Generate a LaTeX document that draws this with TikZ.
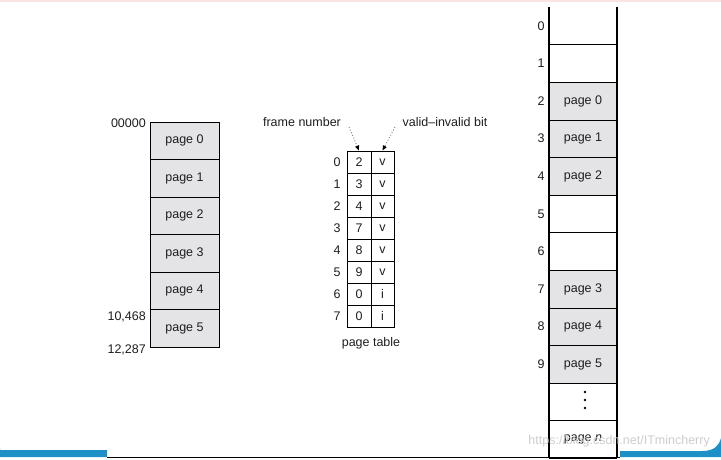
\documentclass[tikz,border=0pt]{standalone}
\usepackage{fontspec}
\setmainfont{Liberation Sans}
\usetikzlibrary{arrows.meta}
\definecolor{pagegray}{RGB}{228,227,230}
\definecolor{barblue}{RGB}{30,144,200}
\definecolor{wmgray}{RGB}{205,205,205}
\definecolor{toppink}{RGB}{250,228,225}
\definecolor{inkc}{RGB}{30,30,30}
\begin{document}
\begin{tikzpicture}[x=1pt,y=-1pt,
  every node/.style={font=\fontsize{12.5}{14}\selectfont, inner sep=0pt, text=inkc},
  lpage/.style={draw=black, line width=0.9pt, fill=pagegray, minimum width=69pt, minimum height=37.5pt},
  cell/.style={draw=black, line width=0.9pt, minimum height=22pt},
  frame/.style={minimum width=68pt, minimum height=37.6pt},
  pframe/.style={frame, fill=pagegray},
  idx/.style={anchor=center},
  ptr/.style={gray, dotted, line width=0.9pt, -{Triangle[black,length=5pt,width=4pt]}}
]
\useasboundingbox (0,0) rectangle (721,459);
% screenshot decorations
\fill[toppink] (0,0) rectangle (721,2);
\fill[barblue] (0,448) -- (0,450) -- (107,450) -- (107,457) -- (0,457) -- cycle;
\fill[barblue] (620,451) -- (702,451) .. controls (714,451) and (719,446) .. (721,438) -- (721,457) -- (620,457) -- cycle;
\draw[line width=1.2pt] (107,457.5) -- (620,457.5);

% logical memory
\foreach \i in {0,...,5}{
  \node[lpage] (L\i) at (184.5,{122+37.5*\i+18.75}) {page \i};
}
\node[anchor=east] (a0) at (146,123) {00000};
\node[anchor=east] (a1) at (146,317) {10,468};
\node[anchor=east] (a2) at (146,350) {12,287};

% page table
\foreach \i/\f/\v in {0/2/v,1/3/v,2/4/v,3/7/v,4/8/v,5/9/v,6/0/i,7/0/i}{
  \node[cell, minimum width=24pt] (F\i) at (359,{151+22*\i+11}) {\f};
  \node[cell, minimum width=23pt] (V\i) at (382.5,{151+22*\i+11}) {\v};
  \node[idx] (I\i) at (337,{151+22*\i+11}) {\i};
}
\node (fn) at (302,122) {frame number};
\node (vb) at (445,122) {valid\textendash invalid bit};
\node (pt) at (371,343) {page table};
\coordinate (fns) at (349,127);
\coordinate (vbs) at (395,127);
\draw[ptr] (fns) -- (F0.north);
\draw[ptr] (vbs) -- (V0.north);

% physical memory
\foreach \i in {0,1,5,6}{
  \node[frame] (R\i) at (583,{7+37.6*\i+18.8}) {};
}
\node[pframe] (R2) at (583,{7+37.6*2+18.8}) {page 0};
\node[pframe] (R3) at (583,{7+37.6*3+18.8}) {page 1};
\node[pframe] (R4) at (583,{7+37.6*4+18.8}) {page 2};
\node[pframe] (R7) at (583,{7+37.6*7+18.8}) {page 3};
\node[pframe] (R8) at (583,{7+37.6*8+18.8}) {page 4};
\node[pframe] (R9) at (583,{7+37.6*9+18.8}) {page 5};
\node[frame] (Rd) at (583,{7+37.6*10+18.8}) {};
\node[frame] (Rn) at (583,{7+37.6*11+18.8}) {page \textit{n}};
\foreach \y in {392,400,408}{\fill (585,\y) circle (1.4pt);}
\foreach \i in {0,...,9}{
  \node (N\i) at (541,{7+37.6*\i+18.8}) {\i};
}
\foreach \a in {R0,R1,R2,R3,R4,R5,R6,R7,R8,R9,Rd,Rn}{
  \draw[line width=1pt] (\a.south west) -- (\a.south east);
}
\draw[line width=1.6pt] (R0.north west) -- (Rn.south west);
\draw[line width=1.6pt] (R0.north east) -- (Rn.south east);

% watermark
\node[text=wmgray, anchor=east] (wm) at (710,441) {https://blog.csdn.net/ITmincherry};
\end{tikzpicture}
\end{document}
